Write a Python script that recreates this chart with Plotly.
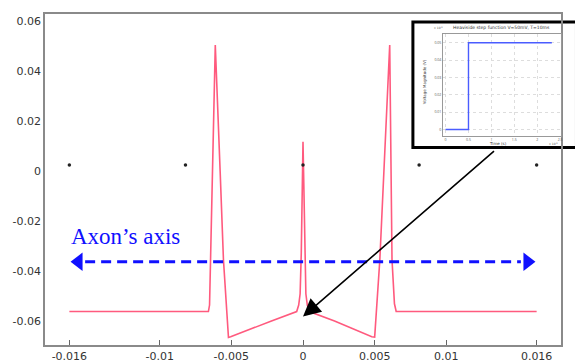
import plotly.graph_objects as go

# ---- main curve (membrane potential along axon) ----
pos_x = [-0.0163, -0.0066, -0.00652, -0.00612, -0.00578, -0.00555, -0.0052, -0.00505,
         -0.0022, -0.00044, -0.0003, -0.0002, -0.00012, -0.00004, 0.0,
         0.00004, 0.00012, 0.0002, 0.0003, 0.00044, 0.0022, 0.0048, 0.0050,
         0.00536, 0.00605, 0.00621, 0.00638, 0.0065, 0.0163]
volt_y = [-0.0561, -0.0561, -0.0535, 0.0506, 0.0, -0.0354, -0.0665, -0.0662,
          -0.0599, -0.0561, -0.0535, -0.049, -0.0326, 0.0, 0.0119,
          0.0, -0.0326, -0.049, -0.0535, -0.0561, -0.0599, -0.0662, -0.0663,
          -0.0354, 0.0506, -0.0354, -0.053, -0.0561, -0.0561]

# electrode dots
dot_x = [-0.0163, -0.0082, 0.0, 0.0081, 0.0163]
dot_y = [0.0026, 0.0026, 0.0026, 0.0026, 0.0026]

# axis ticks
x_tickvals = [-0.0163, -0.01, -0.005, 0, 0.005, 0.01, 0.0163]
x_ticktext = ["-0.016", "-0.01", "-0.005", "0", "0.005", "0.01", "0.016"]
y_tickvals = [-0.06, -0.04, -0.02, 0, 0.02, 0.04, 0.06]
y_ticktext = ["-0.06", "-0.04", "-0.02", "0", "0.02", "0.04", "0.06"]

# axon axis arrow
axon_line_x = [-0.0152, 0.0152]
axon_line_y = [-0.0362, -0.0362]
axon_head_x = [-0.01566, 0.01566]
axon_head_y = [-0.0362, -0.0362]
axon_label = "Axon\u2019s axis"
axon_label_pos = (-0.0163, -0.0262)

# pointer arrow (tip, tail)
pointer_tip = (0.0, -0.0581)
pointer_tail = (0.01343, 0.0086)

# ---- inset: Heaviside step ----
inset_t = [0.0, 0.5, 0.5, 2.32]
inset_v = [0.0, 0.0, 0.05, 0.05]
inset_xticks = [0, 0.5, 1, 1.5, 2, 2.5]
inset_xtext = ["0", "0.5", "1", "1.5", "2", "2.5"]
inset_yticks = [0, 0.01, 0.02, 0.03, 0.04, 0.05]
inset_ytext = ["0", "0.01", "0.02", "0.03", "0.04", "0.05"]
inset_title = "Heaviside step function V=50mV, T=10ms"

fig = go.Figure()

fig.add_trace(go.Scatter(x=pos_x, y=volt_y, mode="lines",
                         line=dict(color="#ff5a7e", width=1.6),
                         hoverinfo="skip", showlegend=False))
fig.add_trace(go.Scatter(x=dot_x, y=dot_y, mode="markers",
                         marker=dict(color="#222222", size=3.5),
                         showlegend=False))
fig.add_trace(go.Scatter(x=axon_line_x, y=axon_line_y, mode="lines",
                         line=dict(color="#1010ff", width=3, dash="10px,6px"),
                         showlegend=False))
fig.add_trace(go.Scatter(x=axon_head_x, y=axon_head_y, mode="markers",
                         marker=dict(color="#1010ff", size=16,
                                     symbol=["triangle-left", "triangle-right"],
                                     line=dict(width=0)),
                         showlegend=False))

fig.add_trace(go.Scatter(x=inset_t, y=inset_v, mode="lines",
                         line=dict(color="#4a5cff", width=1.4),
                         xaxis="x2", yaxis="y2", showlegend=False))

tickfont = dict(family="DejaVu Sans", size=11, color="#333333")
small = dict(family="DejaVu Sans", size=4, color="#333333")

fig.update_layout(
    width=575, height=364,
    margin=dict(l=45, r=14, t=14, b=19),
    paper_bgcolor="white", plot_bgcolor="white",
    xaxis=dict(range=[-0.018, 0.018], tickvals=x_tickvals, ticktext=x_ticktext,
               showgrid=False, zeroline=False, showline=True, mirror=True,
               linecolor="#8a8a8a", linewidth=1.5, ticks="inside", ticklen=5,
               tickcolor="#666666", tickwidth=1, tickfont=tickfont,
               automargin=False),
    yaxis=dict(range=[-0.0695, 0.063], tickvals=y_tickvals, ticktext=y_ticktext,
               showgrid=False, zeroline=False, showline=True, mirror=True,
               linecolor="#8a8a8a", linewidth=1.5, ticks="", tickfont=tickfont,
               automargin=False),
    xaxis2=dict(domain=[0.771, 1.0], anchor="y2", range=[-0.06, 2.52],
                tickvals=inset_xticks, ticktext=inset_xtext,
                showgrid=True, gridcolor="#dddddd", griddash="dot", gridwidth=0.5,
                zeroline=False, showline=True, mirror=True, linecolor="#999999",
                linewidth=0.6, ticks="", tickfont=dict(size=3.5, color="#555555"),
                automargin=False),
    yaxis2=dict(domain=[0.632, 0.94], anchor="x2", range=[-0.0036, 0.0551],
                tickvals=inset_yticks, ticktext=inset_ytext,
                showgrid=True, gridcolor="#dddddd", griddash="dot", gridwidth=0.5,
                zeroline=False, showline=True, mirror=True, linecolor="#999999",
                linewidth=0.6, ticks="", tickfont=dict(size=3.5, color="#555555"),
                automargin=False),
    shapes=[dict(type="rect", xref="paper", yref="paper",
                 x0=0.713, x1=1.03, y0=0.597, y1=0.976,
                 line=dict(color="black", width=3), fillcolor="white",
                 layer="below")],
    annotations=[
        dict(x=axon_label_pos[0], y=axon_label_pos[1], xref="x", yref="y",
             text=axon_label, showarrow=False, xanchor="left", yanchor="middle",
             font=dict(family="Liberation Serif", size=23, color="#1010ff")),
        dict(x=pointer_tip[0], y=pointer_tip[1], xref="x", yref="y",
             ax=pointer_tail[0], ay=pointer_tail[1], axref="x", ayref="y",
             text="", showarrow=True, arrowhead=2, arrowsize=2.2,
             arrowwidth=1.6, arrowcolor="black"),
        dict(x=0.885, y=0.958, xref="paper", yref="paper", text=inset_title,
             xanchor="center", yanchor="middle", showarrow=False,
             font=dict(family="DejaVu Sans", size=4.5, color="#333333")),
        dict(x=0.878, y=0.608, xref="paper", yref="paper", text="Time (s)",
             xanchor="center", yanchor="middle", showarrow=False, font=small),
        dict(x=0.736, y=0.796, xref="paper", yref="paper", text="Voltage Magnitude (V)",
             xanchor="center", yanchor="middle", textangle=-90, showarrow=False,
             font=small),
        dict(x=0.762, y=0.958, xref="paper", yref="paper", text="x 10<sup>-3</sup>",
             xanchor="center", yanchor="middle", showarrow=False,
             font=dict(family="DejaVu Sans", size=3, color="#555555")),
        dict(x=0.985, y=0.608, xref="paper", yref="paper", text="x 10<sup>-3</sup>",
             xanchor="center", yanchor="middle", showarrow=False,
             font=dict(family="DejaVu Sans", size=3, color="#555555")),
    ],
)

fig.write_html("out.html")
